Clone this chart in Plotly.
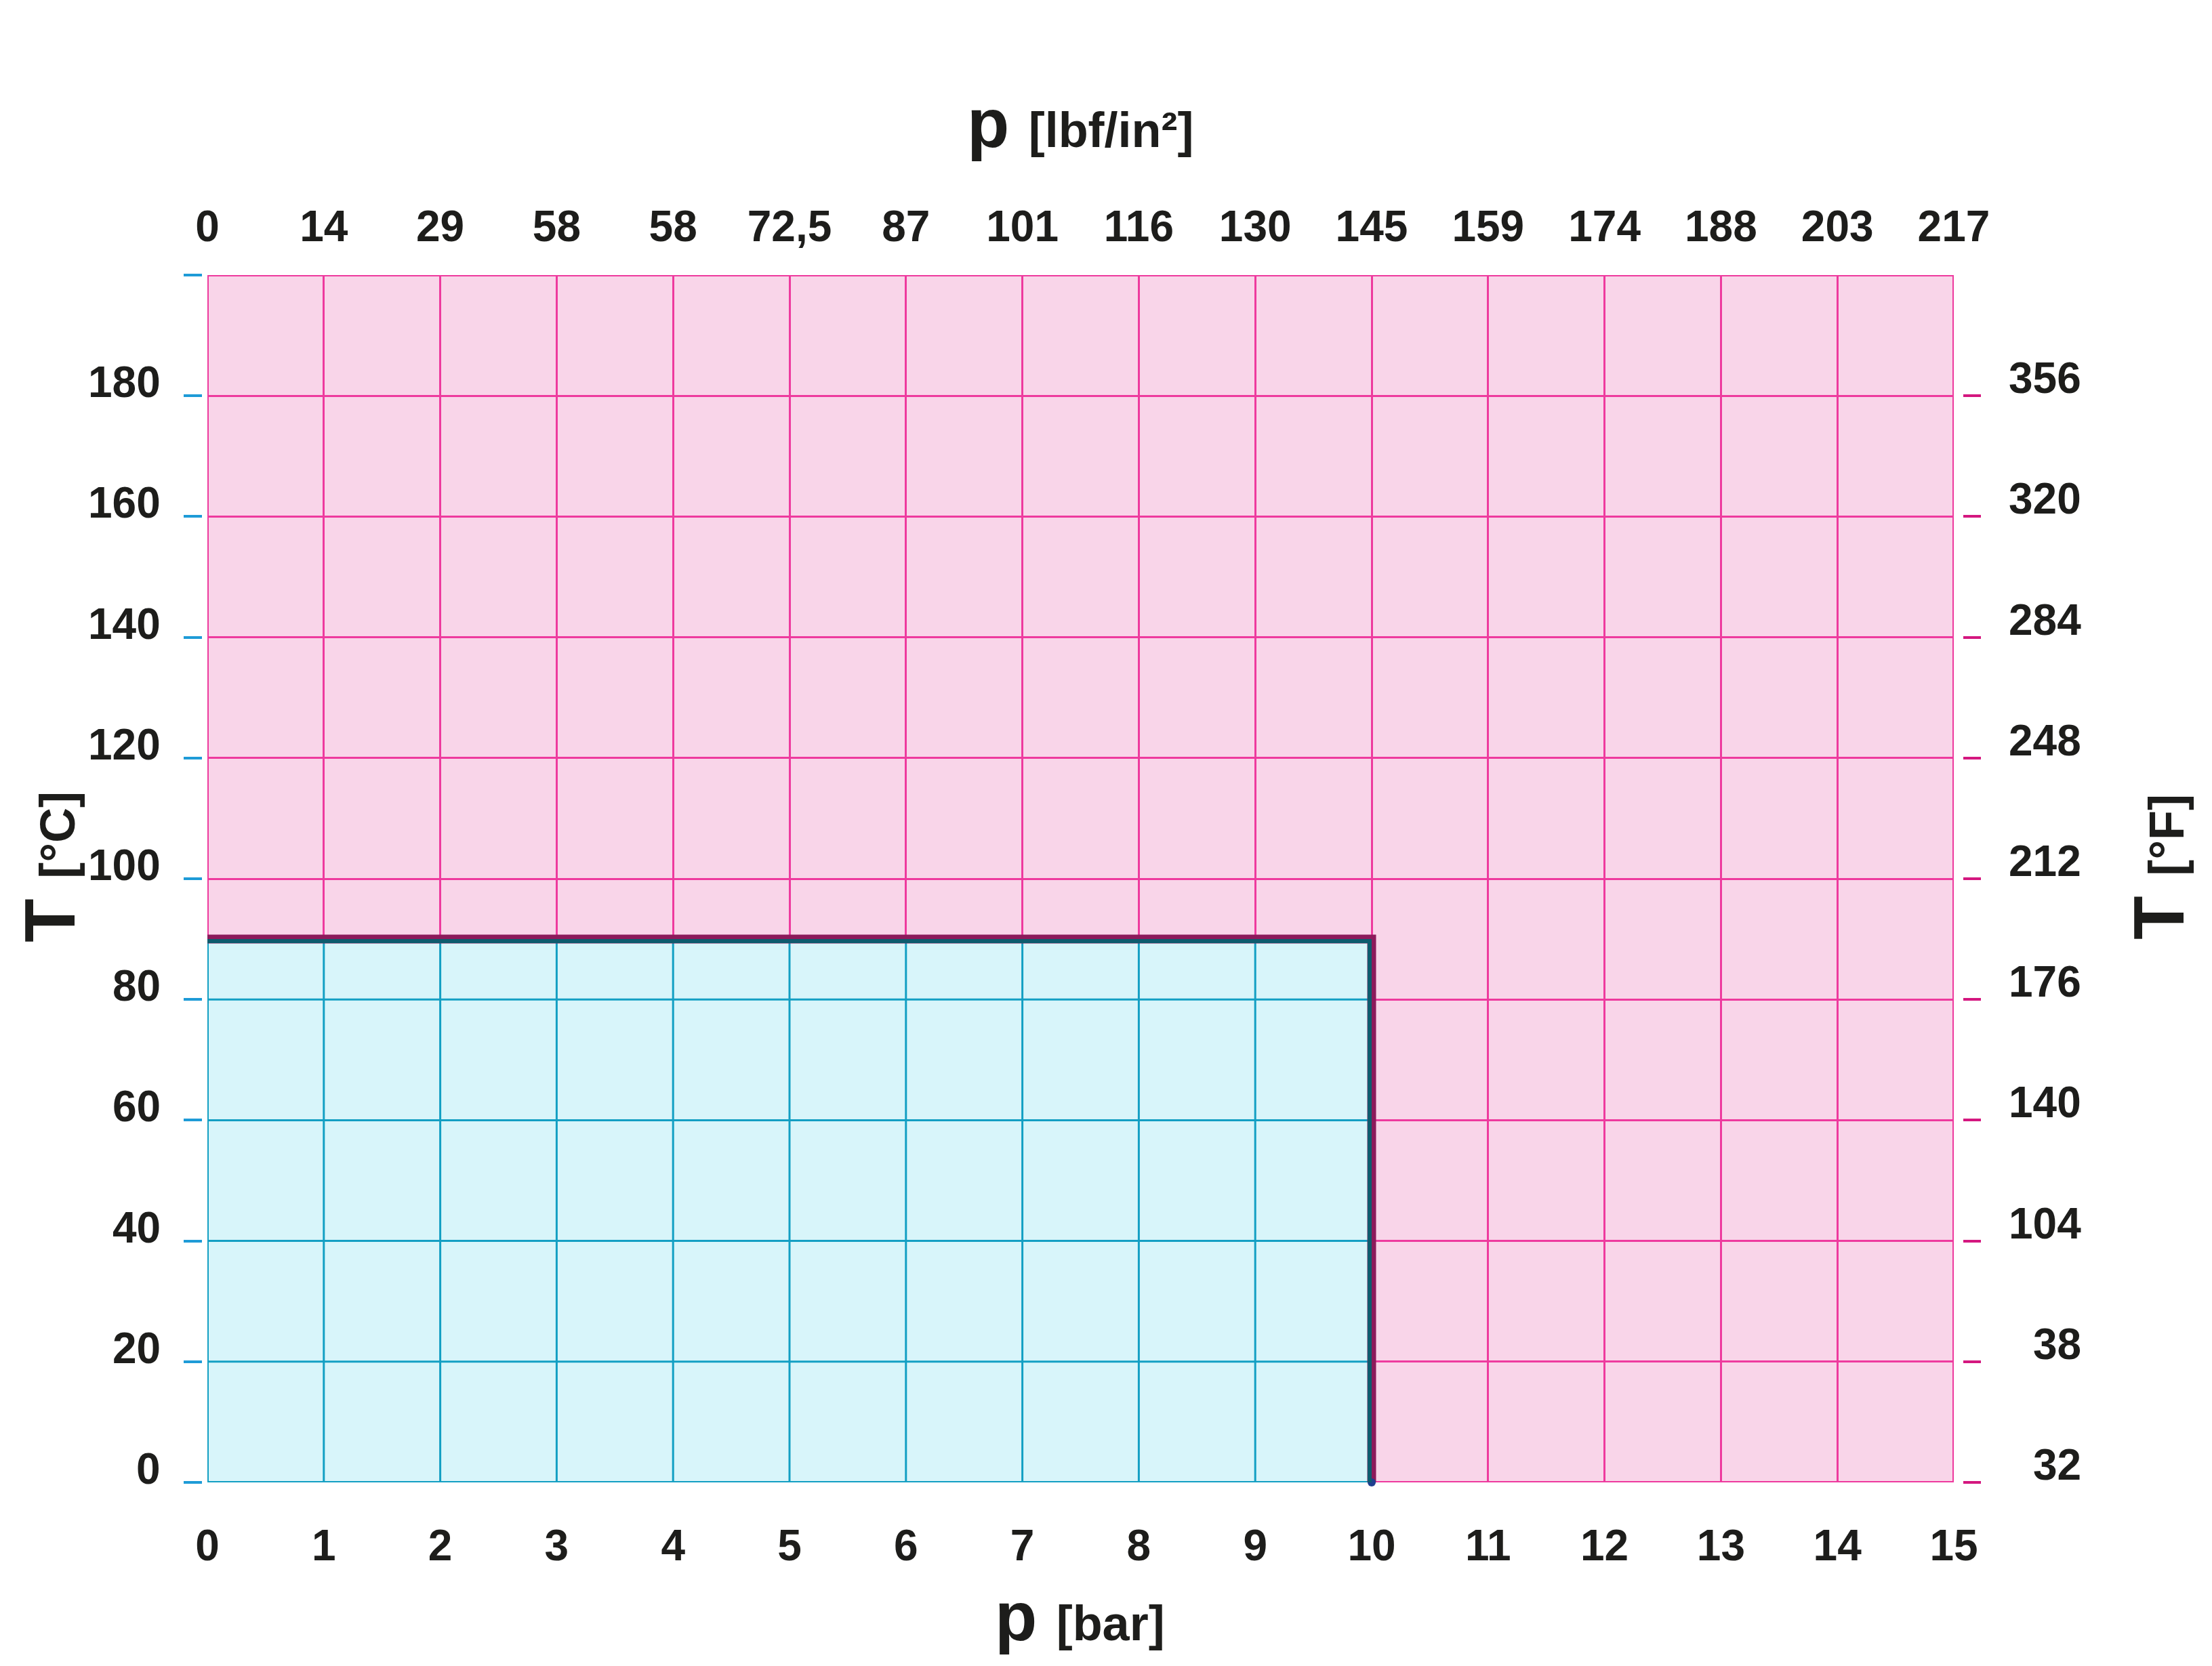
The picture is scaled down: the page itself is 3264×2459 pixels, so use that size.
import plotly.graph_objects as go

# ---- data ----
P_BAR_TICKS = list(range(0, 16))
P_BAR_LABELS = [str(v) for v in P_BAR_TICKS]
P_PSI_LABELS = ["0", "14", "29", "58", "58", "72,5", "87", "101", "116",
                "130", "145", "159", "174", "188", "203", "217"]
T_C_TICKS = [0, 20, 40, 60, 80, 100, 120, 140, 160, 180]
T_C_LABELS = [str(v) for v in T_C_TICKS]
T_C_AXIS_TICKS = T_C_TICKS + [200]
T_F_LABELS = ["32", "38", "104", "140", "176", "212", "248", "284", "320", "356"]
P_MAX = 10      # bar, limit of permitted region
T_MAX = 90      # degC, limit of permitted region
X_RANGE = [0, 15]
Y_RANGE = [0, 200]

# ---- styles ----
W, H = 3264, 2459
PINK_BG = "#F9D5E9"
MAGENTA = "#EE3A9E"
CYAN_BG = "#D8F5FA"
CYAN = "#139FC3"
MAROON = "#8C1A5B"
TEAL = "#0E5B6E"
NAVY = "#1F3F8F"
TXT = "#1d1d1b"
TICK_BLUE = "#1E9BD7"
TICK_MAG = "#D4177F"
FONT = "Liberation Sans"

PL, PR, PT, PB = 306, 2883, 406, 2188   # plot area in pixels

fig = go.Figure()

# permitted region (cyan)
fig.add_trace(go.Scatter(
    x=[0, P_MAX, P_MAX, 0, 0], y=[0, 0, T_MAX, T_MAX, 0],
    mode="lines", fill="toself", fillcolor=CYAN_BG,
    line=dict(color=CYAN, width=4), hoverinfo="skip", showlegend=False))

# cyan grid inside region
gx, gy = [], []
for xv in P_BAR_TICKS:
    if 0 < xv < P_MAX:
        gx += [xv, xv, None]
        gy += [0, T_MAX, None]
for yv in T_C_TICKS:
    if 0 < yv < T_MAX:
        gx += [0, P_MAX, None]
        gy += [yv, yv, None]
fig.add_trace(go.Scatter(x=gx, y=gy, mode="lines",
                         line=dict(color=CYAN, width=3),
                         hoverinfo="skip", showlegend=False))

# boundary line (outer maroon)
fig.add_trace(go.Scatter(x=[0, P_MAX, P_MAX], y=[T_MAX, T_MAX, 0],
                         mode="lines", line=dict(color=MAROON, width=13),
                         hoverinfo="skip", showlegend=False, cliponaxis=True))

# end dot
fig.add_trace(go.Scatter(x=[P_MAX], y=[0], mode="markers",
                         marker=dict(color=NAVY, size=12),
                         hoverinfo="skip", showlegend=False, cliponaxis=False))

shapes = [
    # plot border (magenta)
    dict(type="rect", xref="x", yref="y", x0=X_RANGE[0], x1=X_RANGE[1],
         y0=Y_RANGE[0], y1=Y_RANGE[1], line=dict(color=MAGENTA, width=4),
         layer="below"),
    # inner teal boundary lines (pixel offset inward)
    dict(type="line", xref="x", yref="y", x0=0, x1=P_MAX,
         ysizemode="pixel", yanchor=T_MAX, y0=-3, y1=-3,
         line=dict(color=TEAL, width=6), layer="above"),
    dict(type="line", xref="x", yref="y", y0=0, y1=T_MAX,
         xsizemode="pixel", xanchor=P_MAX, x0=-3, x1=-3,
         line=dict(color=TEAL, width=6), layer="above"),
]

annotations = []
# left labels (degC)
for v, t in zip(T_C_TICKS, T_C_LABELS):
    annotations.append(dict(xref="paper", yref="y", x=239 / W, y=v, text=f"<b>{t}</b>",
                            xanchor="right", yanchor="middle", yshift=20, showarrow=False,
                            font=dict(family=FONT, size=64, color=TXT)))
# right labels (degF)
for v, t in zip(T_C_TICKS, T_F_LABELS):
    annotations.append(dict(xref="paper", yref="y", x=3073 / W, y=v, text=f"<b>{t}</b>",
                            xanchor="right", yanchor="middle", yshift=26, showarrow=False,
                            font=dict(family=FONT, size=64, color=TXT)))

# axis titles
annotations += [
    dict(xref="paper", yref="paper", x=1594 / W, y=1 - 182 / H,
         text="<b>p</b> <b><span style='font-size:72px'>[lbf/in²]</span></b>",
         xanchor="center", yanchor="middle", showarrow=False,
         font=dict(family=FONT, size=102, color=TXT)),
    dict(xref="paper", yref="paper", x=1593 / W, y=1 - 2386 / H,
         text="<b>p</b> <b><span style='font-size:72px'>[bar]</span></b>",
         xanchor="center", yanchor="middle", showarrow=False,
         font=dict(family=FONT, size=102, color=TXT)),
    dict(xref="paper", yref="paper", x=73 / W, y=1 - 1280 / H,
         text="<b>T</b> <b><span style='font-size:72px'>[°C]</span></b>",
         xanchor="center", yanchor="middle", textangle=-90, showarrow=False,
         font=dict(family=FONT, size=106, color=TXT)),
    dict(xref="paper", yref="paper", x=3185 / W, y=1 - 1280 / H,
         text="<b>T</b> <b><span style='font-size:72px'>[°F]</span></b>",
         xanchor="center", yanchor="middle", textangle=-90, showarrow=False,
         font=dict(family=FONT, size=106, color=TXT)),
]

tickfont = dict(family=FONT, size=64, color=TXT, weight="bold")

fig.update_layout(
    width=W, height=H, autosize=False,
    margin=dict(l=0, r=0, t=0, b=0, pad=0),
    paper_bgcolor="white", plot_bgcolor=PINK_BG,
    showlegend=False,
    shapes=shapes, annotations=annotations,
    xaxis=dict(domain=[PL / W, PR / W], range=X_RANGE, anchor="y",
               tickvals=P_BAR_TICKS, ticktext=P_BAR_LABELS, ticks="",
               showgrid=True, gridcolor=MAGENTA, gridwidth=3,
               zeroline=False, showline=False, tickfont=tickfont,
               ticklabelstandoff=50, automargin=False, fixedrange=True),
    xaxis2=dict(overlaying="x", side="top", range=X_RANGE, anchor="y",
                tickvals=P_BAR_TICKS, ticktext=P_PSI_LABELS, ticks="",
                showgrid=False, zeroline=False, showline=False, tickfont=tickfont,
                ticklabelstandoff=36, automargin=False, fixedrange=True),
    yaxis=dict(domain=[1 - PB / H, 1 - PT / H], range=Y_RANGE, anchor="free",
               position=(PL - 8) / W, side="left",
               tickvals=T_C_AXIS_TICKS, ticks="outside", ticklen=27, tickwidth=4,
               tickcolor=TICK_BLUE, showticklabels=False,
               showgrid=True, gridcolor=MAGENTA, gridwidth=3,
               zeroline=False, showline=False, automargin=False, fixedrange=True),
    yaxis2=dict(overlaying="y", side="right", range=Y_RANGE, anchor="free",
                position=(PR + 13) / W,
                tickvals=T_C_TICKS, ticks="outside", ticklen=26, tickwidth=4,
                tickcolor=TICK_MAG, showticklabels=False, showgrid=False,
                zeroline=False, showline=False, automargin=False, fixedrange=True),
)

# invisible trace so the secondary axes are drawn
fig.add_trace(go.Scatter(x=[X_RANGE[0]], y=[Y_RANGE[0]], xaxis="x2", yaxis="y2",
                         mode="markers", marker=dict(opacity=0), hoverinfo="skip",
                         showlegend=False))

fig.write_html("out.html", config={"displayModeBar": False},
               post_script="document.body.style.margin='0';")
